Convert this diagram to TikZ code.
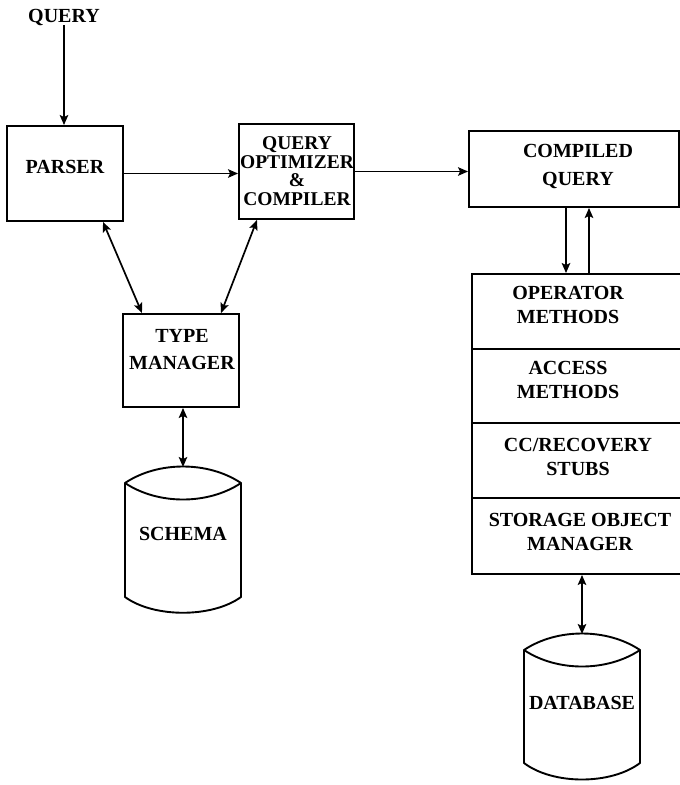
\documentclass[tikz,border=0pt]{standalone}
\usepackage{fontspec}
\setmainfont{Liberation Serif}
\usetikzlibrary{arrows.meta}

\tikzset{
  lbl/.style={font=\fontsize{20}{24}\selectfont\bfseries, align=center, inner sep=0pt},
  blk/.style={draw, line width=1.9pt, rectangle, inner sep=0pt},
  tip/.style={Stealth[length=10pt,width=8.5pt,inset=2pt]},
  wire/.style={line width=1.7pt, -{Stealth[length=10pt,width=8.5pt,inset=2pt]}},
  wire2/.style={line width=1.7pt, {Stealth[length=10pt,width=8.5pt,inset=2pt]}-{Stealth[length=10pt,width=8.5pt,inset=2pt]}},
  drum/.style={draw, line width=1.9pt, line join=round}
}

\begin{document}
\begin{tikzpicture}[x=1pt, y=-1pt]
  \useasboundingbox[fill=white] (0,0) rectangle (680,785);

  % input label
  \node[lbl] (query) at (64,17) {QUERY};

  % front end boxes
  \node[blk, minimum width=116pt, minimum height=95pt] (parser) at (65,173.5) {};
  \node[lbl] (parsertxt) at (65,167) {PARSER};

  \node[blk, minimum width=115pt, minimum height=95pt] (opt) at (296.5,171.5) {};
  \node[lbl, font=\fontsize{19.5}{18.7}\selectfont\bfseries] (opttxt) at (297,171)
    {QUERY\\OPTIMIZER\\\&\\COMPILER};

  \node[blk, minimum width=210pt, minimum height=76pt] (comp) at (574,169) {};
  \node[lbl, font=\fontsize{20}{28}\selectfont\bfseries] (comptxt) at (578,166) {COMPILED\\QUERY};

  \node[blk, minimum width=116pt, minimum height=93pt] (type) at (181,360.5) {};
  \node[lbl, font=\fontsize{20}{27}\selectfont\bfseries] (typetxt) at (182,350) {TYPE\\MANAGER};

  % run-time layer stack
  \node[blk, minimum width=212pt, minimum height=75pt] (op)  at (578,311.5) {};
  \node[blk, minimum width=212pt, minimum height=74pt] (acc) at (578,386) {};
  \node[blk, minimum width=212pt, minimum height=75pt] (cc)  at (578,460.5) {};
  \node[blk, minimum width=212pt, minimum height=76pt] (sto) at (578,536) {};
  \node[lbl] (optxt)  at (568,305) {OPERATOR\\METHODS};
  \node[lbl] (acctxt) at (568,380) {ACCESS\\METHODS};
  \node[lbl] (cctxt)  at (578,456.5) {CC/RECOVERY\\STUBS};
  \node[lbl] (stotxt) at (580,531.5) {STORAGE OBJECT\\MANAGER};

  % schema drum
  \draw[drum] (125,483) .. controls (158,461) and (208,461) .. (241,483)
    -- (241,597) .. controls (212,618) and (154,618) .. (125,597) -- cycle;
  \draw[drum] (125,483) .. controls (158,505) and (208,505) .. (241,483);
  \coordinate (schtop) at (183,467);
  \node[lbl] (schema) at (183,534) {SCHEMA};

  % database drum
  \draw[drum] (524,650) .. controls (557,628) and (607,628) .. (640,650)
    -- (640,763) .. controls (611,785) and (553,785) .. (524,763) -- cycle;
  \draw[drum] (524,650) .. controls (557,672) and (607,672) .. (640,650);
  \coordinate (dbtop) at (582,634);
  \node[lbl] (database) at (582,703) {DATABASE};

  % connectors
  \draw[wire] (query.south) -- (query.south |- parser.north);
  \draw[wire] (parser.east) -- (parser.east -| opt.west);
  \draw[wire] (opt.east) -- (opt.east -| comp.west);
  \draw[wire] ([xshift=-8pt]comp.south) -- ([xshift=-8pt]comp.south |- op.north);
  \draw[wire] ([xshift=11pt]op.north) -- ([xshift=11pt]op.north |- comp.south);
  \draw[wire2] ([xshift=38pt]parser.south) -- ([xshift=-39pt]type.north);
  \draw[wire2] ([xshift=-39.5pt]opt.south) -- ([xshift=40pt]type.north);
  \draw[wire2] (type.south -| schtop) -- (schtop);
  \draw[wire2] (sto.south -| dbtop) -- (dbtop);
\end{tikzpicture}
\end{document}
